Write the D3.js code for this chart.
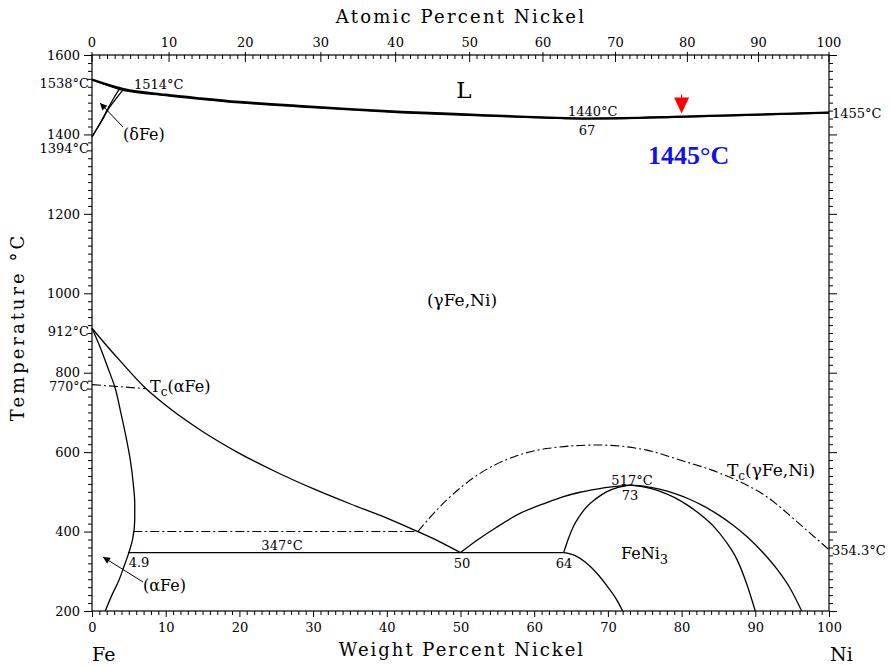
<!DOCTYPE html>
<html>
<head>
<meta charset="utf-8">
<script src="https://cdn.jsdelivr.net/npm/d3@7"></script>
<style>
  html, body { margin: 0; padding: 0; background: #fff; }
  svg { display: block; }
</style>
</head>
<body>
<svg id="chart" width="892" height="666"></svg>
<script>
// Fe–Ni phase diagram. Compositions in weight percent Ni, temperatures in °C.
const weightTicks = [0, 10, 20, 30, 40, 50, 60, 70, 80, 90, 100];
const atomicTicks = [0, 10, 20, 30, 40, 50, 60, 70, 80, 90, 100];
const tempTicks = [200, 400, 600, 800, 1000, 1200, 1400, 1600];

// Liquidus / solidus (nearly coincident) with minimum at 67 wt% Ni
const liquidus = [[0,1538],[4.3,1514],[10,1500],[14.7,1491],[20,1482],[28,1472],[35,1464],[42,1457],[50,1451],[58,1445],[63,1442],[67,1440],[72,1441],[80,1445],[90,1450],[100,1455]];
const solidus  = [[0,1538],[3.7,1514],[10,1498],[14.7,1489],[20,1480],[28,1470],[35,1462],[42,1455],[50,1449],[58,1444],[63,1441],[67,1440],[72,1440.5],[80,1444],[90,1449],[100,1455]];

// δ-Fe loop boundaries and peritectic
const deltaSolvus = [[0,1394],[1.2,1432],[2.3,1470],[3.0,1493],[3.7,1514]];
const gammaDelta  = [[0,1394],[1.2,1430],[2.3,1466],[3.3,1491],[4.3,1514]];
const peritectic  = [[3.7,1514],[4.3,1514]];

// α / (α+γ) boundary
const alphaSolvus = [[0,912],[1.2,860],[2.2,810],[3.1,764],[3.9,700],[4.6,640],[5.2,580],[5.6,520],[5.8,470],[5.8,430],[5.5,380],[5.0,347],[4.3,310],[3.6,275],[2.7,240],[1.8,200]];
// γ / (α+γ) boundary
const gammaSolvus = [[0,912],[2,868],[4,826],[7.2,762],[10,718],[15,652],[20,597],[25,550],[30,508],[35,470],[40,434],[44.2,400],[47,376],[50,347]];

// Eutectoid line at 347 °C
const eutectoid = [[4.9,347],[64,347]];

// FeNi3 ordering boundaries
const gammaFeNi3Left = [[50,347],[52,375],[54.9,411],[58,445],[61.7,473],[64,488],[66.2,499],[68.5,507],[70.8,513],[73,517]];
const feNi3Left      = [[64,347],[64.6,380],[65.3,412],[66.2,440],[67.1,462],[68.4,483],[69.8,500],[71.4,511],[73,517]];
const feNi3Inner     = [[73,517],[75,512],[77,502],[79,486],[81,464],[83,436],[84.5,410],[86,375],[87.5,330],[88.8,270],[90,200]];
const feNi3Outer     = [[73,517],[75,514],[77,507],[79,496],[81,482],[83,464],[85,442],[87,416],[89,385],[91,348],[93,304],[94.7,258],[96.3,200]];
const lowBranch      = [[64,347],[65.5,340],[67,322],[68.5,295],[70,260],[71.2,228],[72,200]];

// Magnetic transitions (dash-dot)
const curieAlpha = [[0,770],[7.2,760]];
const magnetic400 = [[5.6,400],[44.2,400]];
const curieGamma = [[44.2,400],[48.1,479],[52.6,546],[57.2,588],[61.7,609],[68.5,618],[75.3,605],[79.8,580],[85.2,547],[91.6,487],[96.5,411],[100,354.3]];

// Highlighted point
const markW = 80, markT = 1445;

const SERIF = '"DejaVu Serif", "Liberation Serif", serif';
const svg = d3.select("#chart");
const x = d3.scaleLinear().domain([0, 100]).range([92, 829]);
const y = d3.scaleLinear().domain([200, 1600]).range([611, 55]);

// atomic % -> weight % Ni
const mNi = 58.693, mFe = 55.845;
const atToWt = a => 100 * a * mNi / (a * mNi + (100 - a) * mFe);

// Frame
svg.append("rect").attr("x", x(0)).attr("y", y(1600))
  .attr("width", x(100) - x(0)).attr("height", y(200) - y(1600))
  .attr("fill", "none").attr("stroke", "#000").attr("stroke-width", 1.2);

const styleTicks = g => g.selectAll("text").style("font-family", SERIF).style("font-size", "13px").attr("fill", "#000");

// Bottom axis (weight %)
const bottomMinor = d3.range(0, 101, 1);
svg.append("g").attr("transform", `translate(0,${y(200)})`)
  .call(d3.axisBottom(x).tickValues(bottomMinor.filter(v => v % 10)).tickSize(4).tickFormat(""))
  .call(g => g.select(".domain").remove());
svg.append("g").attr("transform", `translate(0,${y(200)})`)
  .call(d3.axisBottom(x).tickValues(weightTicks).tickSize(6).tickPadding(6).tickFormat(d3.format("d")))
  .call(g => g.select(".domain").remove())
  .call(styleTicks);

// Left axis (temperature)
const leftMinor = d3.range(200, 1601, 20).filter(v => v % 200);
svg.append("g").attr("transform", `translate(${x(0)},0)`)
  .call(d3.axisLeft(y).tickValues(leftMinor).tickSize(4).tickFormat(""))
  .call(g => g.select(".domain").remove());
svg.append("g").attr("transform", `translate(${x(0)},0)`)
  .call(d3.axisLeft(y).tickValues(tempTicks).tickSize(8).tickPadding(4).tickFormat(d3.format("d")))
  .call(g => g.select(".domain").remove())
  .call(styleTicks);

// Right axis ticks
svg.append("g").attr("transform", `translate(${x(100)},0)`)
  .call(d3.axisRight(y).tickValues(leftMinor).tickSize(4).tickFormat(""))
  .call(g => g.select(".domain").remove());
svg.append("g").attr("transform", `translate(${x(100)},0)`)
  .call(d3.axisRight(y).tickValues(tempTicks).tickSize(8).tickFormat(""))
  .call(g => g.select(".domain").remove());

// Top axis (atomic %), ticks pointing inward
const topG = svg.append("g");
const topMinor = d3.range(0, 101, 1).filter(v => v % 10);
topG.selectAll("line.minor").data(topMinor).join("line").attr("class", "minor")
  .attr("x1", d => x(atToWt(d))).attr("x2", d => x(atToWt(d)))
  .attr("y1", y(1600)).attr("y2", y(1600) + 4).attr("stroke", "#000");
topG.selectAll("line.major").data(atomicTicks).join("line").attr("class", "major")
  .attr("x1", d => x(atToWt(d))).attr("x2", d => x(atToWt(d)))
  .attr("y1", y(1600) - 3).attr("y2", y(1600) + 7).attr("stroke", "#000");
topG.selectAll("text").data(atomicTicks).join("text")
  .attr("x", d => x(atToWt(d))).attr("y", y(1600) - 8)
  .attr("text-anchor", "middle").style("font-family", SERIF).style("font-size", "13px")
  .text(d => d);

// Curves
const lineX = d3.line().x(d => x(d[0])).y(d => y(d[1])).curve(d3.curveMonotoneX);
const lineY = d3.line().x(d => x(d[0])).y(d => y(d[1])).curve(d3.curveMonotoneY);
const lineCR = d3.line().x(d => x(d[0])).y(d => y(d[1])).curve(d3.curveCatmullRom.alpha(0.5));
const straight = d3.line().x(d => x(d[0])).y(d => y(d[1]));
const plot = svg.append("g").attr("fill", "none").attr("stroke", "#000");

plot.append("path").attr("d", lineX(liquidus)).attr("stroke-width", 2.2);
plot.append("path").attr("d", lineX(solidus)).attr("stroke-width", 1.6);
plot.append("path").attr("d", lineCR(deltaSolvus)).attr("stroke-width", 1.3);
plot.append("path").attr("d", lineCR(gammaDelta)).attr("stroke-width", 1.3);
plot.append("path").attr("d", straight(peritectic)).attr("stroke-width", 1.2);

plot.append("path").attr("d", lineY(alphaSolvus)).attr("stroke-width", 1.3);
[gammaSolvus, gammaFeNi3Left, feNi3Left, feNi3Inner, feNi3Outer, lowBranch]
  .forEach(s => plot.append("path").attr("d", lineX(s)).attr("stroke-width", 1.3));
plot.append("path").attr("d", straight(eutectoid)).attr("stroke-width", 1.3);

const dashDot = "9,3,2,3";
plot.append("path").attr("d", straight(curieAlpha)).attr("stroke-width", 1.1).attr("stroke-dasharray", dashDot);
plot.append("path").attr("d", straight(magnetic400)).attr("stroke-width", 1.1).attr("stroke-dasharray", dashDot);
plot.append("path").attr("d", lineX(curieGamma)).attr("stroke-width", 1.1).attr("stroke-dasharray", dashDot);

// Leader arrows for (δFe) and (αFe)
svg.append("defs").append("marker").attr("id", "ah")
  .attr("viewBox", "0 0 10 10").attr("refX", 10).attr("refY", 5)
  .attr("markerWidth", 14).attr("markerHeight", 7).attr("markerUnits", "userSpaceOnUse")
  .attr("orient", "auto")
  .append("path").attr("d", "M0,0L10,5L0,10z").attr("fill", "#000");
svg.append("line").attr("x1", 123).attr("y1", 127).attr("x2", 100).attr("y2", 103)
  .attr("stroke", "#000").attr("stroke-width", 1).attr("marker-end", "url(#ah)");
svg.append("line").attr("x1", 143).attr("y1", 582).attr("x2", 103).attr("y2", 557)
  .attr("stroke", "#000").attr("stroke-width", 1).attr("marker-end", "url(#ah)");

// Red marker at 80 wt% Ni
const mx = x(markW), my = y(markT) - 3;
svg.append("line").attr("x1", mx).attr("x2", mx).attr("y1", my - 19).attr("y2", my - 15)
  .attr("stroke", "red").attr("stroke-width", 1.2);
svg.append("path").attr("d", `M${mx - 7.5},${my - 16}L${mx + 7.5},${my - 16}L${mx},${my}Z`).attr("fill", "red");
svg.append("text").attr("x", mx + 7).attr("y", y(markT) + 47)
  .attr("text-anchor", "middle")
  .style("font-family", '"Liberation Serif", "Times New Roman", serif')
  .style("font-weight", "bold").style("font-size", "26px").style("fill", "#1010ee")
  .text(`${markT}°C`);

// Annotations
function label(txt, px, py, anchor = "start", size = 13) {
  return svg.append("text").attr("x", px).attr("y", py).attr("text-anchor", anchor)
    .style("font-family", SERIF).style("font-size", size + "px").style("fill", "#000").text(txt);
}
label("1538°C", 89, 88, "end");
label("1394°C", 89, 153, "end");
label("912°C", 89, 336, "end");
label("770°C", 89, 391, "end", 12.5);
label("1514°C", 134, 89);
label("1440°C", 568, 116);
label("67", 587, 135, "middle");
label("1455°C", 832, 118);
label("354.3°C", 832, y(354.3) + 5);
label("517°C", 632, 485, "middle");
label("73", 630, 500, "middle");
label("347°C", 282, 550, "middle");
label("4.9", 139, 567, "middle");
label("50", 462, 568, "middle");
label("64", 564, 568, "middle");
label("(δFe)", 123, 140, "start", 16);
label("(αFe)", 143, 591, "start", 16);
label("(γFe,Ni)", 462, 306, "middle", 17);
label("L", 464, 98, "middle", 23);

const tcA = label("T", 150, 392, "start", 16);
tcA.append("tspan").style("font-size", "12px").attr("dy", 4).text("c");
tcA.append("tspan").attr("dy", -4).text("(αFe)");

const tcG = label("T", 727, 476, "start", 17);
tcG.append("tspan").style("font-size", "12px").attr("dy", 4).text("c");
tcG.append("tspan").attr("dy", -4).text("(γFe,Ni)");

const fn = label("FeNi", 621, 559, "start", 16);
fn.append("tspan").style("font-size", "13px").attr("dy", 5).text("3");

// Axis titles and element symbols
label("Atomic Percent Nickel", 461, 23, "middle", 18).style("letter-spacing", "2.2px");
label("Weight Percent Nickel", 462, 656, "middle", 18).style("letter-spacing", "2px");
label("Temperature °C", 0, 0, "middle", 18).attr("transform", "translate(24,327) rotate(-90)")
  .style("letter-spacing", "3px");
label("Fe", 92, 661, "start", 19);
label("Ni", 830, 661, "start", 19);
</script>
</body>
</html>
